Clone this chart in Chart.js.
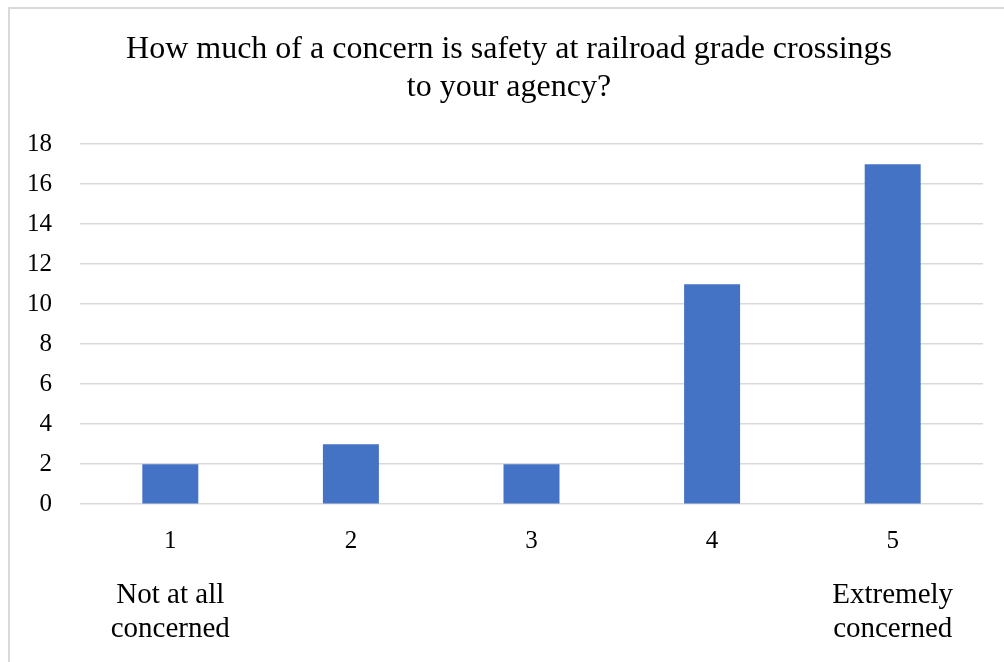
<!DOCTYPE html>
<html>
<head>
<meta charset="utf-8">
<script src="https://cdn.jsdelivr.net/npm/chart.js@4.4.1/dist/chart.umd.min.js"></script>
<style>
  html, body { margin: 0; padding: 0; background: #fff; overflow: hidden; }
  #wrap { position: relative; width: 1004px; height: 662px; }
  #frame { position: absolute; left: 8px; top: 7px; width: 1010px; height: 670px; border: 2px solid #d9d9d9; box-sizing: border-box; }
  #chart { position: absolute; left: 0; top: 0; }
</style>
</head>
<body>
<div id="wrap">
  <div id="frame"></div>
  <canvas id="chart" width="1004" height="662"></canvas>
</div>
<script>
const titleLines = ['How much of a concern is safety at railroad grade crossings', 'to your agency?'];
const categories = ['1', '2', '3', '4', '5'];
const responses = [2, 3, 2, 11, 17];
const scaleNotes = [['Not at all', 'concerned'], '', '', '', ['Extremely', 'concerned']];
const yMin = 0;
const yMax = 18;
const yStep = 2;

const serif = "'Liberation Serif', 'Times New Roman', serif";

// title is centred on the whole frame in the original, not on canvas minus right padding
const titleShift = {
  id: 'titleShift',
  afterLayout(chart) {
    if (chart.titleBlock) chart.titleBlock.left += 35;
  },
};

const ctx = document.getElementById('chart').getContext('2d');
new Chart(ctx, {
  type: 'bar',
  data: {
    labels: categories,
    datasets: [
      {
        data: responses,
        backgroundColor: '#4472c4',
        borderWidth: 0,
        barPercentage: 0.31,
        categoryPercentage: 1,
      },
    ],
  },
  options: {
    responsive: false,
    animation: false,
    layout: { padding: { left: 0, right: 21, top: 31.5, bottom: 16 } },
    scales: {
      x: {
        grid: { display: false },
        border: { display: false },
        ticks: { color: '#000', font: { family: serif, size: 25 }, padding: 14 },
      },
      x2: {
        type: 'category',
        position: 'bottom',
        offset: true,
        labels: scaleNotes,
        grid: { display: false },
        border: { display: false },
        ticks: { color: '#000', font: { family: serif, size: 29, lineHeight: 1.17 }, padding: 0 },
      },
      y: {
        min: yMin,
        max: yMax,
        ticks: { stepSize: yStep, color: '#000', font: { family: serif, size: 25 }, padding: 28 },
        grid: { color: '#d9d9d9', lineWidth: 1.5, drawTicks: false },
        border: { display: false },
        afterFit: (scale) => {
          scale.width = 80;
        },
      },
    },
    plugins: {
      legend: { display: false },
      tooltip: { enabled: false },
      title: {
        display: true,
        text: titleLines,
        color: '#000',
        font: { family: serif, size: 32, weight: 'normal', lineHeight: 1.16 },
        padding: { top: 0, bottom: 38.5 },
      },
    },
  },
  plugins: [titleShift],
});
</script>
</body>
</html>
